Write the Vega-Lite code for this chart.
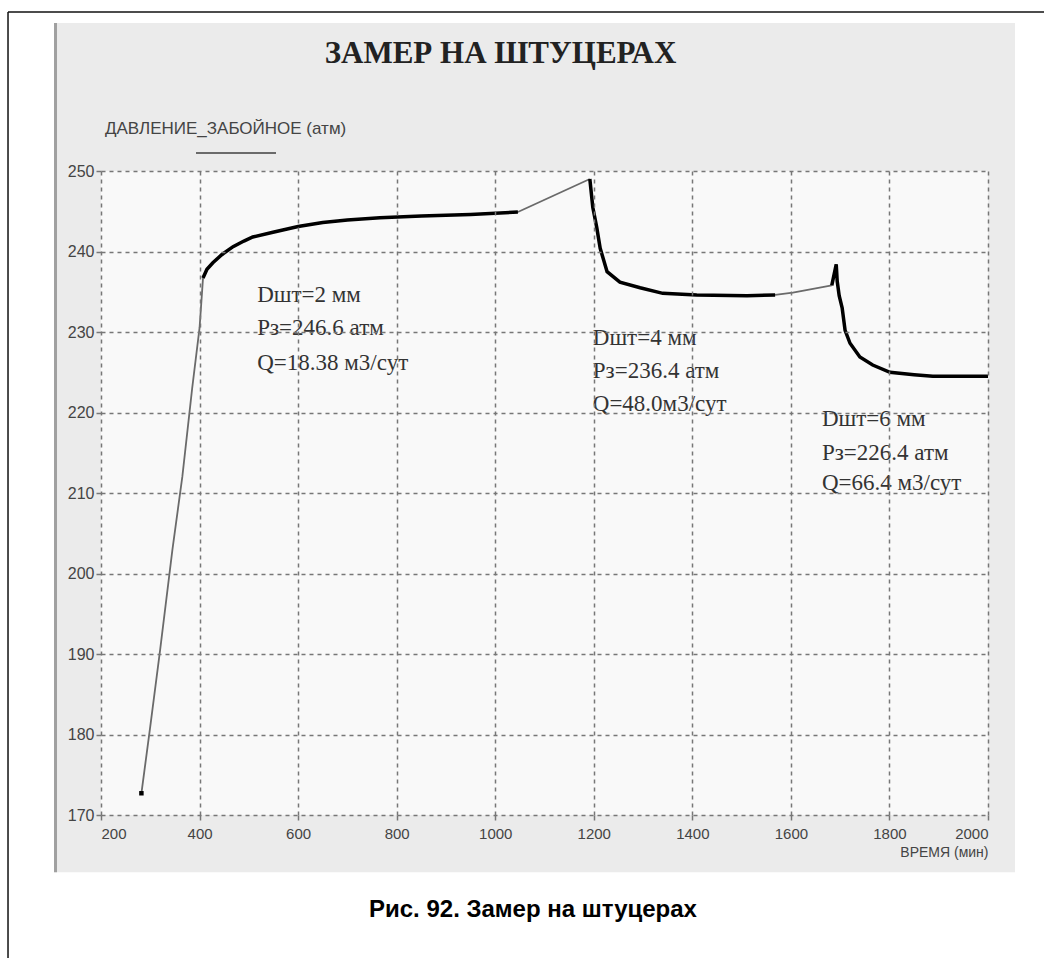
{
  "$schema": "https://vega.github.io/schema/vega-lite/v6.json",
  "width": 887,
  "height": 644,
  "autosize": {"type": "none"},
  "padding": {"left": 101, "top": 171, "right": 56, "bottom": 143},
  "background": "white",
  "title": {
    "text": "ЗАМЕР НА ШТУЦЕРАХ",
    "font": "Liberation Serif",
    "fontSize": 31,
    "fontWeight": "bold",
    "color": "#222",
    "anchor": "middle",
    "frame": "group",
    "baseline": "alphabetic",
    "dx": -44,
    "offset": -83
  },
  "config": {
    "view": {"stroke": null},
    "axis": {
      "grid": true,
      "gridColor": "#777",
      "gridDash": [4, 4],
      "gridWidth": 1.5,
      "domain": false,
      "tickColor": "#777",
      "tickWidth": 1.5,
      "tickSize": 5,
      "labelFont": "Liberation Sans",
      "labelColor": "#444",
      "labelFontSize": 15,
      "titleFont": "Liberation Sans",
      "titleFontWeight": "normal",
      "titleColor": "#444"
    }
  },
  "datasets": {
    "pressure": [
      {"t": 282, "p": 172.7, "seg": "A", "kind": "thin"},
      {"t": 300, "p": 181, "seg": "A", "kind": "thin"},
      {"t": 320, "p": 190.5, "seg": "A", "kind": "thin"},
      {"t": 345, "p": 203, "seg": "A", "kind": "thin"},
      {"t": 365, "p": 212, "seg": "A", "kind": "thin"},
      {"t": 385, "p": 223, "seg": "A", "kind": "thin"},
      {"t": 400, "p": 230.5, "seg": "A", "kind": "thin"},
      {"t": 407, "p": 236.7, "seg": "A", "kind": "thin"},
      {"t": 407, "p": 236.7, "seg": "B", "kind": "thick"},
      {"t": 415, "p": 237.8, "seg": "B", "kind": "thick"},
      {"t": 427, "p": 238.6, "seg": "B", "kind": "thick"},
      {"t": 445, "p": 239.6, "seg": "B", "kind": "thick"},
      {"t": 468, "p": 240.6, "seg": "B", "kind": "thick"},
      {"t": 490, "p": 241.3, "seg": "B", "kind": "thick"},
      {"t": 508, "p": 241.8, "seg": "B", "kind": "thick"},
      {"t": 549, "p": 242.4, "seg": "B", "kind": "thick"},
      {"t": 600, "p": 243.1, "seg": "B", "kind": "thick"},
      {"t": 650, "p": 243.6, "seg": "B", "kind": "thick"},
      {"t": 700, "p": 243.9, "seg": "B", "kind": "thick"},
      {"t": 766, "p": 244.2, "seg": "B", "kind": "thick"},
      {"t": 850, "p": 244.4, "seg": "B", "kind": "thick"},
      {"t": 950, "p": 244.6, "seg": "B", "kind": "thick"},
      {"t": 1046, "p": 244.9, "seg": "B", "kind": "thick"},
      {"t": 1046, "p": 244.9, "seg": "C", "kind": "thin"},
      {"t": 1192, "p": 249, "seg": "C", "kind": "thin"},
      {"t": 1192, "p": 249, "seg": "D", "kind": "thick"},
      {"t": 1198, "p": 245.5, "seg": "D", "kind": "thick"},
      {"t": 1206, "p": 243, "seg": "D", "kind": "thick"},
      {"t": 1213, "p": 240.4, "seg": "D", "kind": "thick"},
      {"t": 1227, "p": 237.5, "seg": "D", "kind": "thick"},
      {"t": 1253, "p": 236.2, "seg": "D", "kind": "thick"},
      {"t": 1294, "p": 235.5, "seg": "D", "kind": "thick"},
      {"t": 1340, "p": 234.8, "seg": "D", "kind": "thick"},
      {"t": 1409, "p": 234.6, "seg": "D", "kind": "thick"},
      {"t": 1511, "p": 234.5, "seg": "D", "kind": "thick"},
      {"t": 1568, "p": 234.6, "seg": "D", "kind": "thick"},
      {"t": 1568, "p": 234.6, "seg": "E", "kind": "thin"},
      {"t": 1604, "p": 234.9, "seg": "E", "kind": "thin"},
      {"t": 1683, "p": 235.8, "seg": "E", "kind": "thin"},
      {"t": 1683, "p": 235.8, "seg": "F", "kind": "thick"},
      {"t": 1692, "p": 238.4, "seg": "F", "kind": "thick"},
      {"t": 1694, "p": 236.3, "seg": "F", "kind": "thick"},
      {"t": 1698, "p": 234.5, "seg": "F", "kind": "thick"},
      {"t": 1704, "p": 233.0, "seg": "F", "kind": "thick"},
      {"t": 1710, "p": 230.2, "seg": "F", "kind": "thick"},
      {"t": 1720, "p": 228.6, "seg": "F", "kind": "thick"},
      {"t": 1740, "p": 226.9, "seg": "F", "kind": "thick"},
      {"t": 1766, "p": 225.9, "seg": "F", "kind": "thick"},
      {"t": 1801, "p": 225.0, "seg": "F", "kind": "thick"},
      {"t": 1850, "p": 224.7, "seg": "F", "kind": "thick"},
      {"t": 1888, "p": 224.5, "seg": "F", "kind": "thick"},
      {"t": 2000, "p": 224.5, "seg": "F", "kind": "thick"}
    ],
    "notes": [
      {"t": 517, "p": 233.7, "label": "Dшт=2 мм"},
      {"t": 517, "p": 229.6, "label": "Pз=246.6 атм"},
      {"t": 517, "p": 225.3, "label": "Q=18.38 м3/сут"},
      {"t": 1198, "p": 228.4, "label": "Dшт=4 мм"},
      {"t": 1198, "p": 224.3, "label": "Pз=236.4 атм"},
      {"t": 1198, "p": 220.2, "label": "Q=48.0м3/сут"},
      {"t": 1663, "p": 218.3, "label": "Dшт=6 мм"},
      {"t": 1663, "p": 214.1, "label": "Pз=226.4 атм"},
      {"t": 1663, "p": 210.4, "label": "Q=66.4 м3/сут"}
    ]
  },
  "layer": [
    {
      "data": {"values": [{}]},
      "mark": {"type": "rect", "fill": "#ebebeb"},
      "encoding": {
        "x": {"datum": 104.6, "type": "quantitative"},
        "x2": {"datum": 2054.7},
        "y": {"datum": 268.4, "type": "quantitative"},
        "y2": {"datum": 162.9}
      }
    },
    {
      "data": {"values": [{}]},
      "mark": {"type": "rect", "fill": "#f9f9f9"},
      "encoding": {
        "x": {"datum": 200, "type": "quantitative"},
        "x2": {"datum": 2000},
        "y": {"datum": 250, "type": "quantitative"},
        "y2": {"datum": 170}
      }
    },
    {
      "data": {"values": [{}]},
      "mark": {"type": "rule", "stroke": "#a0a0a0", "strokeWidth": 3},
      "encoding": {
        "x": {"datum": 107.7, "type": "quantitative"},
        "y": {"datum": 268.4, "type": "quantitative"},
        "y2": {"datum": 162.9}
      }
    },
    {
      "data": {"values": [{}]},
      "mark": {"type": "rule", "stroke": "#111", "strokeWidth": 1.5},
      "encoding": {
        "x": {"datum": 11.3, "type": "quantitative"},
        "x2": {"datum": 2330},
        "y": {"datum": 269.75, "type": "quantitative"}
      }
    },
    {
      "data": {"values": [{}]},
      "mark": {"type": "rule", "stroke": "#111", "strokeWidth": 1.5},
      "encoding": {
        "x": {"datum": 11.3, "type": "quantitative"},
        "y": {"datum": 269.75, "type": "quantitative"},
        "y2": {"datum": 150}
      }
    },
    {
      "data": {"name": "pressure"},
      "mark": {"type": "line", "strokeWidth": 1.8},
      "encoding": {
        "x": {
          "field": "t", "type": "quantitative",
          "scale": {"domain": [200, 2000], "nice": false, "zero": false},
          "axis": {
            "zindex": 1,
            "values": [200, 400, 600, 800, 1000, 1200, 1400, 1600, 1800, 2000],
            "format": "d",
            "title": "ВРЕМЯ (мин)",
            "titleFontSize": 14,
            "titleAnchor": "end",
            "titlePadding": 4,
            "labelPadding": 6
          }
        },
        "y": {
          "field": "p", "type": "quantitative",
          "scale": {"domain": [170, 250], "nice": false, "zero": false},
          "axis": {
            "zindex": 1,
            "values": [170, 180, 190, 200, 210, 220, 230, 240, 250],
            "title": null,
            "labelFontSize": 16,
            "labelPadding": 2
          }
        },
        "detail": {"field": "seg"},
        "order": {"field": "t"},
        "color": {
          "datum": "ДАВЛЕНИЕ_ЗАБОЙНОЕ (атм)",
          "scale": {"range": ["#6a6a6a"]},
          "legend": {
            "orient": "none",
            "legendX": 4,
            "legendY": -50,
            "title": "ДАВЛЕНИЕ_ЗАБОЙНОЕ (атм)",
            "titleFont": "Liberation Sans",
            "titleFontSize": 17,
            "titleFontWeight": "normal",
            "titleColor": "#444",
            "titleLimit": 500,
            "titlePadding": 8,
            "labelExpr": "''",
            "symbolType": "stroke",
            "symbolSize": 6400,
            "symbolStrokeWidth": 2,
            "symbolOffset": 90,
            "clipHeight": 14,
            "padding": 0
          }
        }
      }
    },
    {
      "data": {"name": "pressure"},
      "transform": [{"filter": "datum.kind === 'thick'"}],
      "mark": {"type": "line", "strokeWidth": 3.5, "stroke": "#000"},
      "encoding": {
        "x": {"field": "t", "type": "quantitative"},
        "y": {"field": "p", "type": "quantitative"},
        "detail": {"field": "seg"},
        "order": {"field": "t"}
      }
    },
    {
      "data": {"name": "pressure"},
      "transform": [{"filter": "datum.t === 282"}],
      "mark": {"type": "square", "size": 20, "fill": "#000", "opacity": 1},
      "encoding": {
        "x": {"field": "t", "type": "quantitative"},
        "y": {"field": "p", "type": "quantitative"}
      }
    },
    {
      "data": {"name": "notes"},
      "mark": {"type": "text", "align": "left", "baseline": "alphabetic", "font": "Liberation Serif", "fontSize": 23, "fill": "#333"},
      "encoding": {
        "x": {"field": "t", "type": "quantitative"},
        "y": {"field": "p", "type": "quantitative"},
        "text": {"field": "label"}
      }
    },
    {
      "data": {"values": [{"caption": "Рис. 92. Замер на штуцерах"}]},
      "mark": {"type": "text", "align": "center", "baseline": "alphabetic", "font": "Liberation Sans", "fontWeight": "bold", "fontSize": 24, "fill": "#000"},
      "encoding": {
        "x": {"datum": 1076.6, "type": "quantitative"},
        "y": {"datum": 157.3, "type": "quantitative"},
        "text": {"field": "caption"}
      }
    }
  ]
}
